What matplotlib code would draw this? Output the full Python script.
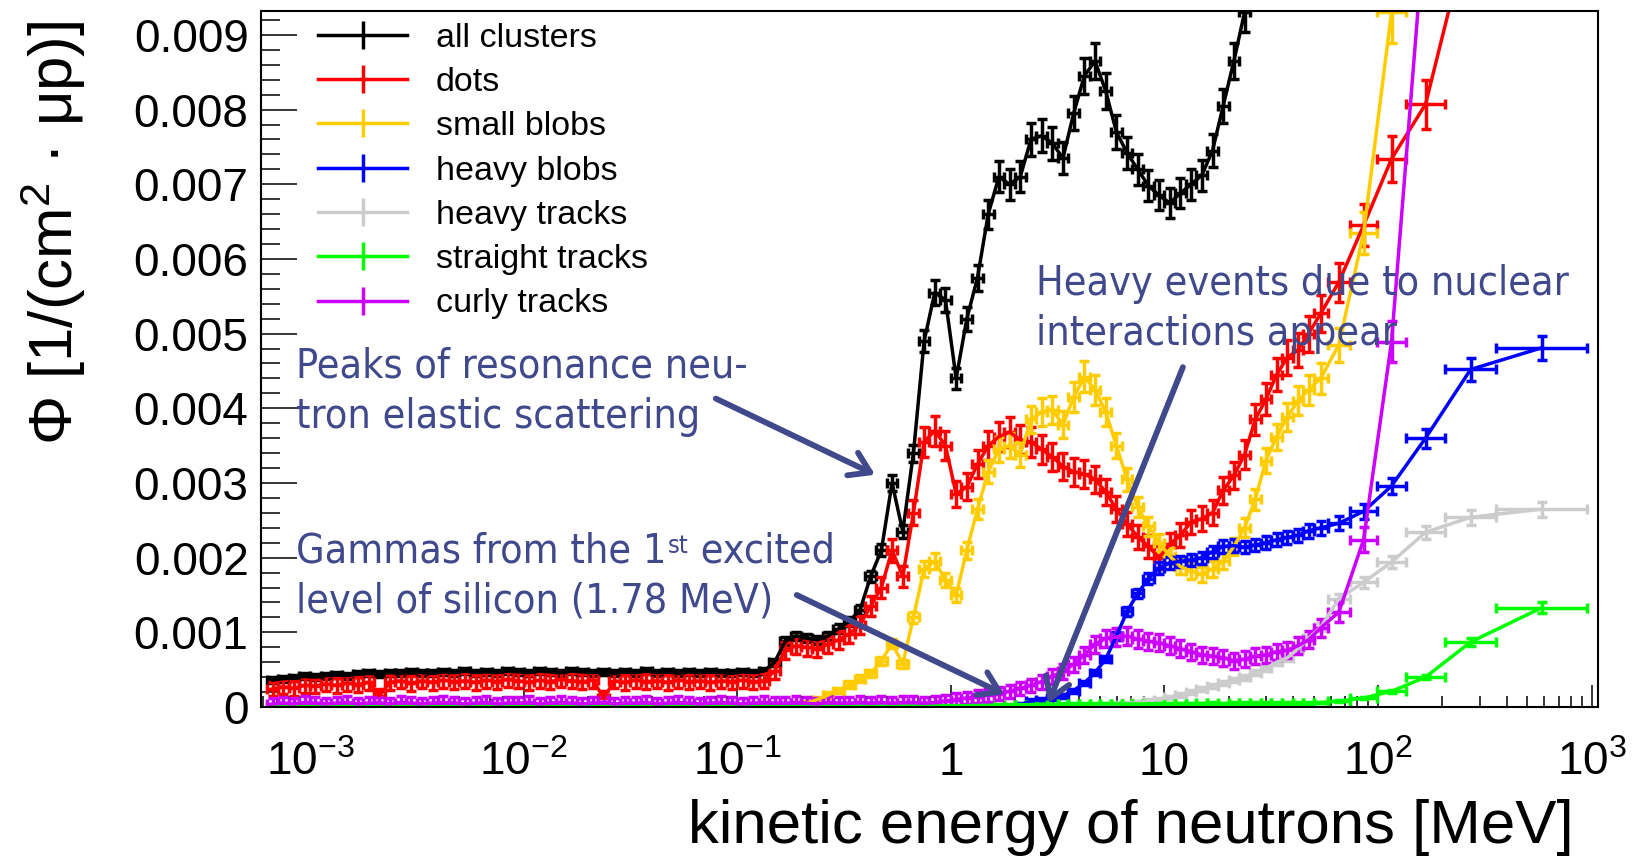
"""
Neutron fluence per cluster class vs kinetic energy (ROOT-style errorbar plot)
"""

import numpy as np
import matplotlib
matplotlib.use('Agg')
import matplotlib.pyplot as plt
from matplotlib import font_manager
from matplotlib.lines import Line2D
from matplotlib.ticker import MultipleLocator, LogLocator, NullFormatter, FuncFormatter

plt.rcParams['font.family'] = ['Liberation Sans', 'DejaVu Sans']
plt.rcParams['mathtext.fontset'] = 'custom'
plt.rcParams['mathtext.rm'] = 'Liberation Sans'
plt.rcParams['mathtext.it'] = 'Liberation Sans:italic'
plt.rcParams['mathtext.bf'] = 'Liberation Sans:bold'

# Binning: fine log bins (20 per decade) from 10^-3.2 to 10^1.7 MeV, then wide bins
FINE_EDGES = np.logspace(-3.2, 1.7, 99)
WIDE_EDGES = [58, 74, 99, 135, 206, 357, 955]

# Fluence values in units of 1e-3 / (cm^2 uP), one per bin starting at *_START
ALL_START = 0
ALL_CLUSTERS = [
    0.36, 0.38, 0.39, 0.41, 0.40, 0.42, 0.43, 0.42, 0.44, 0.45,
    0.44, 0.46, 0.45, 0.47, 0.46, 0.45, 0.47, 0.46, 0.48, 0.46,
    0.47, 0.46, 0.48, 0.47, 0.46, 0.48, 0.47, 0.46, 0.48, 0.47,
    0.46, 0.47, 0.45, 0.47, 0.46, 0.48, 0.46, 0.47, 0.45, 0.47,
    0.46, 0.47, 0.46, 0.45, 0.47, 0.46, 0.48, 0.60, 0.88, 0.95,
    0.92, 0.90, 0.95, 1.05, 1.15, 1.30, 1.75, 2.10, 3.00, 2.35,
    3.40, 4.90, 5.55, 5.45, 4.40, 5.20, 5.75, 6.60, 7.10, 7.00,
    7.10, 7.60, 7.65, 7.55, 7.35, 7.95, 8.45, 8.65, 8.25, 7.70,
    7.42, 7.20, 6.98, 6.85, 6.75, 6.88, 7.00, 7.12, 7.45, 8.05,
    8.65, 9.30, 10.0, 10.8, 11.6, 12.4, 13.2, 14.0,
    15.0, 16.0, 17.0, 18.0, 19.0, 20.0, 21.0,
]

DOTS_START = 0
DOTS = [
    0.24, 0.27, 0.25, 0.29, 0.28, 0.31, 0.29, 0.32, 0.30, 0.33,
    0.15, 0.33, 0.35, 0.32, 0.35, 0.33, 0.36, 0.34, 0.35, 0.33,
    0.36, 0.34, 0.37, 0.35, 0.33, 0.36, 0.34, 0.37, 0.35, 0.34,
    0.36, 0.12, 0.35, 0.33, 0.36, 0.34, 0.35, 0.33, 0.36, 0.34,
    0.35, 0.33, 0.35, 0.34, 0.36, 0.34, 0.35, 0.48, 0.76, 0.82,
    0.80, 0.78, 0.84, 0.90, 0.98, 1.10, 1.35, 1.60, 2.10, 1.75,
    2.60, 3.55, 3.70, 3.50, 2.85, 2.95, 3.25, 3.50, 3.62, 3.68,
    3.58, 3.55, 3.45, 3.35, 3.22, 3.15, 3.12, 3.05, 2.88, 2.65,
    2.45, 2.28, 2.15, 2.00, 2.18, 2.30, 2.48, 2.52, 2.60, 2.90,
    3.10, 3.38, 3.85, 4.12, 4.45, 4.68, 4.78, 5.00,
    5.27, 5.69, 6.45, 7.34, 8.07, 10.5, 12.0,
]

SMALL_START = 50
SMALL_BLOBS = [
    0.05, 0.10, 0.16, 0.22, 0.30, 0.38, 0.45, 0.62, 0.85, 0.58,
    1.20, 1.85, 1.95, 1.70, 1.50, 2.10, 2.65, 3.15, 3.45, 3.50,
    3.38, 3.85, 3.95, 3.98, 3.78, 4.15, 4.42, 4.25, 3.95, 3.50,
    3.05, 2.68, 2.42, 2.20, 2.02, 1.88, 1.82, 1.78, 1.85, 1.95,
    2.15, 2.40, 2.78, 3.30, 3.62, 3.88, 4.10, 4.25,
    4.40, 4.85, 6.35, 9.30, 12.0, 14.0, 15.0,
]

HEAVY_BLOBS_START = 70
HEAVY_BLOBS = [
    0.03, 0.08, 0.10, 0.12, 0.15, 0.22, 0.32, 0.46, 0.64, 0.95,
    1.28, 1.52, 1.72, 1.86, 1.93, 1.95, 1.97, 2.00, 2.08, 2.15,
    2.16, 2.14, 2.17, 2.20, 2.24, 2.27, 2.30, 2.36,
    2.40, 2.46, 2.62, 2.96, 3.60, 4.52, 4.81,
]

HEAVY_TRACKS_START = 76
HEAVY_TRACKS = [
    0.01, 0.02, 0.03, 0.04,
    0.05, 0.06, 0.08, 0.10, 0.13, 0.16, 0.20, 0.24, 0.28, 0.32,
    0.36, 0.40, 0.46, 0.52, 0.60, 0.66, 0.78, 0.92,
    1.07, 1.45, 1.67, 1.94, 2.34, 2.54, 2.65,
]

STRAIGHT_START = 0
STRAIGHT_TRACKS = [
    0.005, 0.008, 0.006, 0.004, 0.007, 0.005, 0.006, 0.008, 0.005, 0.006,
    0.004, 0.007, 0.005, 0.006, 0.008, 0.005, 0.004, 0.006, 0.007, 0.005,
    0.006, 0.005, 0.008, 0.004, 0.006, 0.007, 0.005, 0.006, 0.004, 0.007,
    0.005, 0.006, 0.008, 0.005, 0.004, 0.006, 0.007, 0.005, 0.006, 0.005,
    0.007, 0.005, 0.006, 0.004, 0.008, 0.006, 0.005, 0.007, 0.006, 0.005,
    0.006, 0.008, 0.007, 0.009, 0.008, 0.010, 0.009, 0.011, 0.010, 0.012,
    0.012, 0.014, 0.013, 0.015, 0.016, 0.018, 0.020, 0.022, 0.025, 0.028,
    0.030, 0.032, 0.035, 0.034, 0.036, 0.038, 0.037, 0.040, 0.039, 0.041,
    0.042, 0.040, 0.043, 0.045, 0.044, 0.046, 0.045, 0.047, 0.048, 0.046,
    0.048, 0.050, 0.049, 0.051, 0.052, 0.050, 0.053, 0.055,
    0.06, 0.08, 0.12, 0.21, 0.40, 0.87, 1.33,
]

CURLY_START = 0
CURLY_TRACKS = [
    0.04, 0.05, 0.04, 0.06, 0.05, 0.04, 0.05, 0.06, 0.04, 0.05,
    0.05, 0.04, 0.06, 0.05, 0.04, 0.05, 0.06, 0.05, 0.04, 0.05,
    0.06, 0.04, 0.05, 0.05, 0.06, 0.04, 0.05, 0.06, 0.05, 0.04,
    0.05, 0.06, 0.04, 0.05, 0.05, 0.06, 0.04, 0.05, 0.06, 0.05,
    0.04, 0.05, 0.06, 0.05, 0.04, 0.05, 0.06, 0.05, 0.05, 0.06,
    0.05, 0.04, 0.06, 0.05, 0.05, 0.06, 0.05, 0.06, 0.05, 0.06,
    0.06, 0.05, 0.06, 0.08, 0.10, 0.12, 0.14, 0.16, 0.18, 0.21,
    0.25, 0.29, 0.34, 0.41, 0.48, 0.57, 0.70, 0.84, 0.92, 0.94,
    0.95, 0.91, 0.88, 0.86, 0.82, 0.78, 0.74, 0.70, 0.68, 0.66,
    0.62, 0.64, 0.68, 0.70, 0.74, 0.76, 0.82, 0.90,
    1.06, 1.27, 2.24, 4.89, 10.6, 15.0, 16.0,
]

LABELS = ['all clusters', 'dots', 'small blobs', 'heavy blobs',
          'heavy tracks', 'straight tracks', 'curly tracks']
VALUES = [ALL_CLUSTERS, DOTS, SMALL_BLOBS, HEAVY_BLOBS,
          HEAVY_TRACKS, STRAIGHT_TRACKS, CURLY_TRACKS]
STARTS = [ALL_START, DOTS_START, SMALL_START, HEAVY_BLOBS_START,
          HEAVY_TRACKS_START, STRAIGHT_START, CURLY_START]
COLORS = ['#000000', '#ff0000', '#ffcc00', '#0000ff',
          '#cccccc', '#00ff00', '#cc00ff']
# relative and absolute (1e-3) error-bar sizes
ERR_REL = [0.025, 0.03, 0.04, 0.03, 0.03, 0.05, 0.04]
ERR_ABS = [0.03, 0.09, 0.03, 0.02, 0.02, 0.01, 0.08]

X_TICKS = [1e-3, 1e-2, 1e-1, 1, 10, 100, 1000]
X_TICK_LABELS = ['$10^{-3}$', '$10^{-2}$', '$10^{-1}$', '1', '10',
                 '$10^{2}$', '$10^{3}$']

# annotation arrows: (tail, head) in data units
ANN_COLOR = '#40498c'
ARROWS = [
    ((0.0794, 4.13e-3), (0.442, 3.11e-3)),
    ((0.190, 1.50e-3), (1.78, 0.17e-3)),
    ((12.2, 4.55e-3), (2.86, 0.05e-3)),
]


def annotation_font(size):
    """Tahoma-like font: DejaVu Sans Condensed if present"""
    try:
        prop = font_manager.FontProperties(family='DejaVu Sans', stretch='condensed')
        path = font_manager.findfont(prop, fallback_to_default=False)
        if 'condensed' in path.lower():
            return font_manager.FontProperties(fname=path, size=size)
    except Exception:
        pass
    return font_manager.FontProperties(family='Liberation Sans', size=size - 0.5)


edges = np.concatenate([FINE_EDGES, WIDE_EDGES])
centers = np.sqrt(edges[:-1] * edges[1:])

fig = plt.figure(figsize=(16.37, 8.58), dpi=100)
ax = fig.add_axes([261 / 1637, 1 - 707 / 858, 1336.7 / 1637, 696 / 858])

for label, vals, start, color, rel, ab in zip(LABELS, VALUES, STARTS, COLORS, ERR_REL, ERR_ABS):
    v = np.array(vals) * 1e-3
    assert start + len(v) == len(centers), label
    sl = slice(start, start + len(v))
    x = centers[sl]
    lo = edges[:-1][sl]
    hi = edges[1:][sl]
    yerr = rel * v + ab * 1e-3
    ax.errorbar(x, v, xerr=[x - lo, hi - x], yerr=yerr, color=color,
                lw=2.5, elinewidth=2.5, capsize=3.5, capthick=2.5)

ax.set_xscale('log')
ax.set_xlim(5.9e-4, 1067)
ax.set_ylim(0, 0.00932)

ax.xaxis.set_major_locator(LogLocator(base=10, numticks=20))
ax.xaxis.set_minor_locator(LogLocator(base=10, subs=np.arange(2, 10), numticks=20))
ax.xaxis.set_major_formatter(NullFormatter())
ax.xaxis.set_minor_formatter(NullFormatter())
ax.yaxis.set_major_locator(MultipleLocator(0.001))
ax.yaxis.set_minor_locator(MultipleLocator(0.0002))
ax.yaxis.set_major_formatter(FuncFormatter(lambda v, _: '0' if abs(v) < 1e-9 else f'{v:.3f}'))

ax.tick_params(axis='x', which='major', direction='in', length=16, width=1.1)
ax.tick_params(axis='x', which='minor', direction='in', length=8, width=1.1)
ax.tick_params(axis='y', which='major', direction='in', length=26, width=1.1,
               labelsize=33, pad=9)
ax.tick_params(axis='y', which='minor', direction='in', length=13.5, width=1.1)
for sp in ax.spines.values():
    sp.set_linewidth(1.5)

# x tick labels, baseline aligned like ROOT
for xt, lbl in zip(X_TICKS, X_TICK_LABELS):
    ax.text(xt, -0.0977, lbl, transform=ax.get_xaxis_transform(),
            ha='center', va='baseline', fontsize=33)

ax.text(0.982, -0.196, 'kinetic energy of neutrons [MeV]', transform=ax.transAxes,
        ha='right', va='baseline', fontsize=44.5)
ax.text(-0.1556, 0.986, 'Φ [1/(cm$^{2}$ · μp)]', transform=ax.transAxes,
        rotation=90, rotation_mode='anchor', ha='right', va='center', fontsize=44.5)

# legend
handles = [Line2D([], [], color=c, lw=2.5, marker='|', markersize=20,
                  markeredgewidth=2.5) for c in COLORS]
ax.legend(handles, LABELS, loc='upper left', bbox_to_anchor=(0.0426, 0.983),
          frameon=False, fontsize=24.5, handlelength=2.62, handletextpad=0.85,
          labelspacing=0.39, borderpad=0, borderaxespad=0, numpoints=1)

# annotations
fp = annotation_font(29.5)
fp_small = fp.copy()
fp_small.set_size(fp.get_size() * 0.62)
kw = dict(transform=ax.transAxes, color=ANN_COLOR, fontproperties=fp,
          va='baseline', ha='left', zorder=10)
ax.text(0.0262, 0.4741, 'Peaks of resonance neu-', **kw)
ax.text(0.0262, 0.4009, 'tron elastic scattering', **kw)
g1 = ax.text(0.0262, 0.2083, 'Gammas from the 1', **kw)
g2 = ax.annotate('st', xy=(1, 1), xycoords=g1, xytext=(1, -2), textcoords='offset points',
                 color=ANN_COLOR, fontproperties=fp_small, va='top', ha='left', zorder=10)
ax.annotate(' excited', xy=(1, 0), xycoords=(g2, g1), color=ANN_COLOR,
            fontproperties=fp, va='bottom', ha='left', zorder=10)
ax.text(0.0262, 0.1351, 'level of silicon (1.78 MeV)', **kw)
ax.text(0.5795, 0.5920, 'Heavy events due to nuclear', **kw)
ax.text(0.5795, 0.5201, 'interactions appear', **kw)

for tail, head in ARROWS:
    ax.annotate('', xy=head, xytext=tail, xycoords='data',
                arrowprops=dict(arrowstyle='->,head_length=0.7,head_width=0.45',
                                color=ANN_COLOR, lw=4.2, shrinkA=0, shrinkB=0,
                                mutation_scale=20),
                zorder=11)

fig.savefig('out.png', dpi=100)
plt.close(fig)
